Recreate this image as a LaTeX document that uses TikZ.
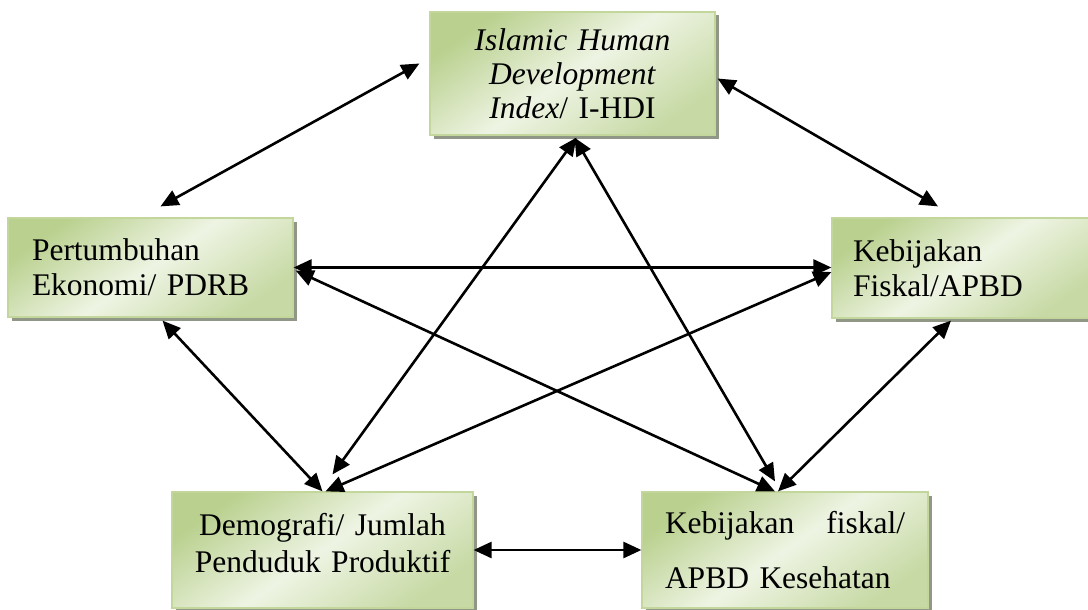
\documentclass[tikz,border=0pt]{standalone}
\usepackage{fontspec}
\setmainfont{Liberation Serif}
\usetikzlibrary{calc,arrows.meta,shadows}
\definecolor{boxgreen}{HTML}{B9D08E}
\definecolor{boxlight}{HTML}{EEF4E3}
\definecolor{boxedge}{HTML}{C3D69B}
\newcommand{\boxfont}[1]{\fontsize{31.5}{#1}\selectfont\spaceskip=0.25em\relax}
\tikzset{
  varbox/.style={draw=boxedge, line width=1.2pt, top color=boxgreen, bottom color=boxgreen!80,
    middle color=boxlight, shading angle=35,
    drop shadow={shadow xshift=3.5pt, shadow yshift=-3.5pt, fill=black!35!boxgreen!60!black, opacity=0.6},
    font=\boxfont{35}, inner ysep=0pt},
  biarrow/.style={{Triangle[length=18pt,width=16pt]}-{Triangle[length=18pt,width=16pt]}, line width=2.6pt}
}
\begin{document}
\begin{tikzpicture}[x=1pt,y=-1pt]
  \useasboundingbox (0,0) rectangle (1088,610);
  \node[varbox, minimum width=285, minimum height=123, text width=260, align=center,
    font=\boxfont{34}] (ihdi) at (572.5,73.5)
    {\textit{Islamic Human}\\ \textit{Development}\\ \textit{Index}/ I-HDI};
  \node[varbox, minimum width=285, minimum height=99, inner xsep=24, text width=237, align=left]
    (pdrb) at (150.5,267.5) {Pertumbuhan\\ Ekonomi/ PDRB};
  \node[varbox, minimum width=262, minimum height=100, inner xsep=21, text width=220, align=left]
    (fiskal) at (963,268) {Kebijakan\\ Fiskal/APBD};
  \node[varbox, minimum width=301, minimum height=116, text width=290, align=center,
    font=\boxfont{37}, text depth=51pt]
    (demo) at (322.5,550) {Demografi/ Jumlah\\ Penduduk Produktif};
  \node[varbox, minimum width=286, minimum height=116, inner xsep=23, text width=240, align=left]
    (kes) at (785,550) {Kebijakan\hfill fiskal/\\[20pt] APBD Kesehatan};
  \begin{scope}[biarrow]
    \draw ($(ihdi.west)+(-10,-10)$) -- ($(pdrb.north)+(10,-11)$);
    \draw ($(ihdi.east)+(2,5)$) -- ($(fiskal.north)+(-25,-11)$);
    \draw (pdrb.east) -- (pdrb.east -| fiskal.west);
    \draw ($(pdrb.south)+(12,3)$) -- (demo.north);
    \draw ($(fiskal.south)+(-12,2)$) -- ($(kes.north)+(-7,0)$);
    \draw ($(ihdi.south)+(4,2)$) -- ($(demo.north)+(10,-17)$);
    \draw ($(ihdi.south)+(2,2)$) -- ($(kes.north)+(-10,-10)$);
    \draw ($(pdrb.east)+(2,3)$) -- ($(kes.north)+(-10,0)$);
    \draw ($(fiskal.west)+(0,4)$) -- ($(demo.north)+(3,0)$);
    \draw (demo.east) -- (kes.west);
  \end{scope}
\end{tikzpicture}
\end{document}
